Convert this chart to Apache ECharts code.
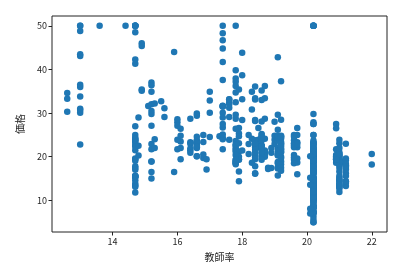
<!DOCTYPE html>
<html>
<head>
<meta charset="utf-8">
<script src="https://cdn.jsdelivr.net/npm/echarts@6/dist/echarts.min.js"></script>
<style>html,body{margin:0;padding:0;background:#fff}#c{width:416px;height:268px}</style>
</head>
<body>
<div id="c"></div>
<script>
// 教師率 (pupil-teacher ratio) per observation
var ptratio = [
15.3,17.8,17.8,18.7,18.7,18.7,15.2,15.2,15.2,15.2,15.2,15.2,15.2,
21.0,21.0,21.0,21.0,21.0,21.0,21.0,21.0,21.0,21.0,21.0,21.0,21.0,21.0,21.0,21.0,21.0,21.0,21.0,21.0,21.0,21.0,
19.2,19.2,19.2,19.2,
18.3,18.3,
17.9,17.9,17.9,17.9,17.9,17.9,17.9,17.9,17.9,
16.8,16.8,16.8,16.8,
21.1,17.9,17.3,15.1,
19.7,19.7,19.7,19.7,19.7,19.7,
18.6,
16.1,16.1,
18.9,18.9,18.9,
19.2,19.2,19.2,19.2,
18.7,18.7,18.7,18.7,18.7,18.7,
19.0,19.0,19.0,19.0,
18.5,18.5,18.5,18.5,
17.8,17.8,17.8,17.8,
18.2,18.2,18.2,
18.0,18.0,18.0,18.0,18.0,
20.9,20.9,20.9,20.9,20.9,20.9,20.9,20.9,20.9,20.9,20.9,
17.8,17.8,17.8,17.8,17.8,17.8,17.8,17.8,17.8,
19.1,19.1,19.1,19.1,19.1,19.1,19.1,
21.2,21.2,21.2,21.2,21.2,21.2,21.2,21.2,21.2,21.2,21.2,21.2,21.2,21.2,21.2,
14.7,14.7,14.7,14.7,14.7,14.7,14.7,14.7,14.7,14.7,14.7,14.7,14.7,14.7,14.7,
14.7,14.7,14.7,14.7,14.7,14.7,14.7,14.7,14.7,14.7,14.7,14.7,14.7,14.7,14.7,
16.6,16.6,16.6,16.6,16.6,16.6,16.6,
17.8,17.8,17.8,17.8,17.8,17.8,17.8,17.8,
15.2,15.2,15.2,15.2,15.2,15.2,
15.6,15.6,
14.4,
12.6,12.6,12.6,
17.0,17.0,
14.7,14.7,14.7,14.7,
18.6,18.6,18.6,18.6,18.6,18.6,18.6,18.6,18.6,18.6,18.6,
16.4,16.4,16.4,16.4,
17.4,17.4,17.4,17.4,17.4,17.4,17.4,17.4,17.4,17.4,17.4,17.4,17.4,17.4,17.4,17.4,17.4,17.4,
16.6,16.6,16.6,16.6,16.6,
19.1,19.1,19.1,19.1,19.1,19.1,19.1,19.1,19.1,19.1,19.1,
16.4,16.4,
15.9,
13.0,13.0,13.0,13.0,13.0,13.0,13.0,13.0,13.0,13.0,13.0,13.0,
18.6,18.6,18.6,18.6,18.6,
17.6,17.6,17.6,17.6,17.6,
14.9,14.9,14.9,14.9,
13.6,
15.3,15.3,
16.6,16.6,16.6,
19.2,19.2,19.2,
16.0,16.0,16.0,16.0,16.0,
14.8,14.8,14.8,
16.1,16.1,16.1,
18.4,18.4,18.4,18.4,18.4,18.4,18.4,18.4,18.4,18.4,18.4,18.4,18.4,18.4,18.4,18.4,18.4,
19.6,19.6,19.6,19.6,19.6,19.6,19.6,19.6,19.6,19.6,19.6,
16.9,16.9,
20.2,20.2,20.2,20.2,20.2,20.2,20.2,20.2,
15.5,15.9,17.6,17.6,18.8,18.8,17.9,17.0,19.7,19.7,18.3,18.3,17.0,22.0,22.0,
20.2,20.2,20.2,20.2,20.2,20.2,20.2,20.2,20.2,20.2,20.2,20.2,
20.2,20.2,20.2,20.2,20.2,20.2,20.2,20.2,20.2,20.2,20.2,20.2,
20.2,20.2,20.2,20.2,20.2,20.2,20.2,20.2,20.2,20.2,20.2,20.2,
20.2,20.2,20.2,20.2,20.2,20.2,20.2,20.2,20.2,20.2,20.2,20.2,
20.2,20.2,20.2,20.2,20.2,20.2,20.2,20.2,20.2,20.2,20.2,20.2,
20.2,20.2,20.2,20.2,20.2,20.2,20.2,20.2,20.2,20.2,20.2,20.2,
20.2,20.2,20.2,20.2,20.2,20.2,20.2,20.2,20.2,20.2,20.2,20.2,
20.2,20.2,20.2,20.2,20.2,20.2,20.2,20.2,20.2,20.2,20.2,20.2,
20.2,20.2,20.2,20.2,20.2,20.2,20.2,20.2,20.2,20.2,20.2,20.2,
20.2,20.2,20.2,20.2,20.2,20.2,20.2,20.2,20.2,20.2,20.2,20.2,
20.2,20.2,20.2,20.2,20.2,20.2,20.2,20.2,20.2,20.2,20.2,20.2,
20.1,20.1,20.1,20.1,20.1,
19.2,19.2,19.2,19.2,19.2,19.2,19.2,19.2,19.2,
21.0,21.0,21.0,21.0
];

// 価格 (median price) per observation
var price = [
24.0,21.6,34.7,33.4,36.2,28.7,22.9,27.1,16.5,18.9,15.0,18.9,21.7,
20.4,18.2,19.9,23.1,17.5,20.2,18.2,13.6,19.6,15.2,14.5,15.6,13.9,16.6,14.8,18.4,21.0,12.7,14.5,13.2,13.1,13.5,
18.9,20.0,21.0,24.7,
30.8,34.9,
26.6,25.3,24.7,21.2,19.3,20.0,16.6,14.4,19.4,
19.7,20.5,25.0,23.4,
18.9,35.4,24.7,31.6,
23.3,19.6,18.7,16.0,22.2,25.0,
33.0,
23.5,19.4,
22.0,17.4,20.9,
24.2,21.7,22.8,23.4,
24.1,21.4,20.0,20.8,21.2,20.3,
28.0,23.9,24.8,22.9,
23.9,26.6,22.5,22.2,
23.6,28.7,22.6,22.0,
22.9,25.0,20.6,
28.4,21.4,38.7,43.8,33.2,
27.5,26.5,18.6,19.3,20.1,19.5,19.5,20.4,19.8,19.4,21.7,
22.8,18.8,18.7,18.5,18.3,21.2,19.2,20.4,19.3,
22.0,20.3,20.5,17.3,18.8,21.4,15.7,
16.2,18.0,14.3,19.2,19.6,23.0,18.4,15.6,18.1,17.4,17.1,13.3,17.8,14.0,14.4,
13.4,15.6,11.8,13.8,15.6,14.6,17.8,15.4,21.5,19.6,15.3,19.4,17.0,15.6,13.1,
41.3,24.3,23.3,27.0,50.0,50.0,50.0,22.7,25.0,50.0,23.8,23.8,22.3,17.4,19.1,
23.1,23.6,22.6,29.4,23.2,24.6,29.9,
37.2,39.8,36.2,37.9,32.5,26.4,29.6,50.0,
32.0,29.8,34.9,37.0,30.5,36.4,
31.1,29.1,
50.0,
33.3,30.3,34.6,
34.9,32.9,
24.1,42.3,48.5,50.0,
22.6,24.4,22.5,24.4,20.0,21.7,19.3,22.4,28.1,23.7,25.0,
23.3,28.7,21.5,23.0,
26.7,21.7,27.5,30.1,44.8,50.0,37.6,31.6,46.7,31.5,24.3,31.7,41.7,48.3,29.0,24.0,25.1,31.5,
23.7,23.3,22.0,20.1,22.2,
23.7,17.6,18.5,24.3,20.5,24.5,26.2,24.4,24.8,29.6,42.8,
21.9,20.9,
44.0,
50.0,36.0,30.1,33.8,43.1,48.8,31.0,36.5,22.8,30.7,50.0,43.5,
20.7,21.1,25.2,24.4,35.2,
32.4,32.0,33.2,33.1,29.1,
35.1,45.4,35.4,46.0,
50.0,
32.2,22.0,
20.1,23.2,22.3,
24.8,28.5,37.3,
27.9,23.9,21.7,28.6,27.1,
20.3,22.5,29.0,
24.8,22.0,26.4,
33.1,36.1,28.4,33.4,28.2,22.8,20.3,16.1,22.1,19.4,21.6,23.8,16.2,17.8,19.8,23.1,21.0,
23.8,23.1,20.4,18.5,25.0,24.6,23.0,22.2,19.3,22.6,19.8,
17.1,19.4,
22.2,20.7,21.1,19.5,18.5,20.6,19.0,18.7,
32.7,16.5,23.9,31.2,17.5,17.2,23.1,24.5,26.6,22.9,24.1,18.6,30.1,18.2,20.6,
17.8,21.7,22.7,22.6,25.0,19.9,20.8,16.8,21.9,27.5,21.9,23.1,
50.0,50.0,50.0,50.0,50.0,13.8,13.8,15.0,13.9,13.3,13.1,10.2,
10.4,10.9,11.3,12.3,8.8,7.2,10.5,7.4,10.2,11.5,15.1,23.2,
9.7,13.8,12.7,13.1,12.5,8.5,5.0,6.3,5.6,7.2,12.1,8.3,
8.5,5.0,11.9,27.9,17.2,27.5,15.0,17.2,17.9,16.3,7.0,7.2,
7.5,10.4,8.8,8.4,16.7,14.2,20.8,13.4,11.7,8.3,10.2,10.9,
11.0,9.5,14.5,14.1,16.1,14.3,11.7,13.4,9.6,8.7,8.4,12.8,
10.5,17.1,18.4,15.4,10.8,11.8,14.9,12.6,14.1,13.0,13.4,15.2,
16.1,17.8,14.9,14.1,12.7,13.5,14.9,20.0,16.4,17.7,19.5,20.2,
21.4,19.9,19.0,19.1,19.1,20.1,19.9,19.6,23.2,29.8,13.8,13.3,
16.7,12.0,14.6,21.4,23.0,23.7,25.0,21.8,20.6,21.2,19.1,20.6,
15.2,7.0,8.1,13.6,20.1,
21.8,24.5,23.1,19.7,18.3,21.2,17.5,16.8,22.4,
20.6,23.9,22.0,11.9
];

var xTicks = [14, 16, 18, 20, 22];
var yTicks = [10, 20, 30, 40, 50];
var xName = '教師率';
var yName = '価格';

var points = [];
for (var i = 0; i < Math.min(ptratio.length, price.length); i++) {
  points.push([ptratio[i], price[i]]);
}

var font = "'Noto Sans CJK JP', 'DejaVu Sans', sans-serif";
var chart = echarts.init(document.getElementById('c'), null, {renderer: 'canvas'});
chart.setOption({
  animation: false,
  backgroundColor: '#ffffff',
  grid: {left: 52, top: 16, right: 29, bottom: 36, show: true,
         borderColor: '#222', borderWidth: 1, backgroundColor: 'transparent'},
  xAxis: {
    type: 'value', min: 12.13, max: 22.47,
    name: xName, nameLocation: 'middle', nameGap: 20,
    nameTextStyle: {fontFamily: font, fontSize: 10, color: '#262626'},
    axisLine: {show: false},
    splitLine: {show: false},
    axisTick: {show: true, inside: false, length: 3.5, customValues: xTicks,
               lineStyle: {color: '#222', width: 1}},
    axisLabel: {customValues: xTicks, fontFamily: font, fontSize: 9, color: '#262626', margin: 5}
  },
  yAxis: {
    type: 'value', min: 2.75, max: 52.25,
    name: yName, nameLocation: 'middle', nameGap: 27,
    nameTextStyle: {fontFamily: font, fontSize: 10, color: '#262626'},
    axisLine: {show: false},
    splitLine: {show: false},
    axisTick: {show: true, inside: false, length: 3.5, customValues: yTicks,
               lineStyle: {color: '#222', width: 1}},
    axisLabel: {customValues: yTicks, fontFamily: font, fontSize: 9, color: '#262626', margin: 5}
  },
  series: [{
    type: 'scatter',
    data: points,
    symbol: 'circle',
    symbolSize: 6.5,
    itemStyle: {color: '#1f77b4', opacity: 1}
  }]
});
</script>
</body>
</html>
